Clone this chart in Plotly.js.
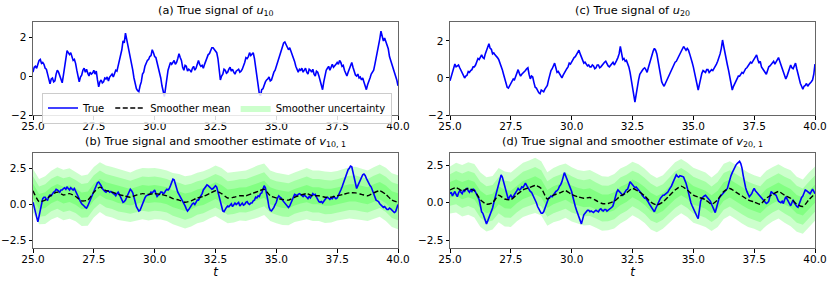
<!DOCTYPE html>
<html><head><meta charset="utf-8">
<script src="https://cdn.plot.ly/plotly-3.0.1.min.js"></script>
<style>html,body{margin:0;padding:0;background:#fff}#plot{width:831px;height:281px}</style>
</head><body><div id="plot"></div>
<script>
// time grid for the true signals (step 0.05) and for the smoother (step 0.25)
const tTrue = Array.from({length:301}, (_, i) => +(25 + i*0.05).toFixed(2));
const tSm = Array.from({length:61}, (_, i) => 25 + i*0.25);

const u10 = [
 0.2,0.45,0.5,0.4,0.6,0.8,0.85,0.65,0.7,0.6,0.4,0.35,0.1,-0.2,-0.4,-0.15,-0.1,-0.3,-0.25,0.1,
 0.3,0.2,0.0,-0.1,-0.35,0.05,0.4,0.95,1.3,1.2,1.1,1.2,1.0,0.8,0.85,0.65,0.3,0.05,-0.3,-0.05,
 0.05,0.3,0.4,0.2,0.35,0.15,0.0,0.2,0.1,0.15,0.3,0.1,0.25,-0.2,-0.55,-0.3,-0.2,-0.35,-0.3,-0.1,
 -0.15,-0.05,-0.25,-0.05,0.05,0.1,-0.05,0.2,0.3,0.25,0.5,0.85,1.1,1.35,1.8,1.7,2.2,1.9,1.5,1.3,
 1.0,0.7,0.3,-0.1,-0.4,-0.65,-0.75,-0.8,-0.5,-0.3,0.1,0.2,0.5,0.7,0.8,0.85,1.0,1.05,1.35,1.2,
 1.0,0.95,0.7,0.5,0.2,-0.1,-0.5,-0.8,-1.05,-0.6,-0.1,0.3,0.5,0.7,0.6,0.75,0.8,0.6,0.7,0.9,
 1.15,0.95,0.8,0.45,0.3,0.55,0.5,0.25,0.35,0.3,0.2,0.4,0.5,0.3,0.4,0.6,0.8,0.6,0.5,0.55,
 0.4,0.6,0.8,0.95,1.1,1.15,1.3,1.45,1.45,1.35,1.3,1.2,0.9,0.3,-0.2,0.0,0.1,0.35,0.3,0.15,
 0.2,0.35,0.45,0.25,0.35,0.2,0.1,0.25,0.3,0.35,0.2,0.25,0.35,0.5,0.7,0.95,0.9,1.0,1.2,1.05,
 1.15,1.2,0.9,0.4,-0.1,-0.55,-0.9,-1.0,-0.7,-0.65,-0.4,-0.3,-0.2,-0.15,-0.05,-0.25,-0.2,0.05,0.2,0.3,
 0.5,0.65,0.9,1.15,1.3,1.45,1.7,1.75,1.6,1.5,1.35,1.45,1.3,1.05,0.9,0.75,0.5,0.35,0.2,0.35,
 0.3,0.4,0.2,0.3,0.4,0.2,0.1,0.35,0.3,0.2,0.35,0.1,0.0,0.25,0.2,0.0,-0.2,-0.5,-0.7,-0.3,
 0.1,0.3,0.4,0.5,0.3,0.45,0.6,0.45,0.5,0.6,0.7,0.6,0.8,0.7,0.5,0.55,0.3,0.15,0.0,0.2,
 0.4,0.55,0.7,0.45,0.2,0.05,0.0,0.1,-0.1,-0.05,-0.2,-0.1,-0.3,-0.5,-0.7,-0.45,-0.2,-0.1,0.1,0.2,
 0.3,0.6,0.9,1.2,1.5,1.9,2.3,2.0,1.8,1.95,1.8,1.55,1.4,1.0,0.8,0.7,0.5,0.2,0.1,-0.2,
 -0.5];

const u20 = [
 -0.15,0.1,0.3,0.55,0.75,0.6,0.65,0.7,0.55,0.4,0.35,0.15,0.0,0.1,0.15,0.35,0.3,0.4,0.45,0.6,
 0.6,0.7,0.85,1.05,1.0,1.15,1.25,1.1,1.05,1.3,1.5,1.75,1.85,1.6,1.55,1.3,1.35,1.25,1.2,1.1,
 1.0,0.85,0.65,0.45,0.2,-0.05,-0.3,-0.5,-0.55,-0.4,-0.3,-0.15,-0.05,-0.1,0.1,0.3,0.45,0.25,0.1,0.2,
 0.25,0.35,0.4,0.5,0.55,0.2,-0.05,0.1,0.05,-0.25,-0.5,-0.55,-0.7,-0.8,-0.85,-0.65,-0.7,-0.75,-0.6,-0.5,
 -0.4,-0.1,0.2,0.4,0.5,0.65,0.8,0.55,0.3,0.35,0.2,0.1,0.0,0.15,0.3,0.35,0.5,0.6,0.8,0.75,
 0.9,1.0,1.1,1.15,1.25,1.4,1.5,1.3,1.1,0.9,0.8,0.85,0.75,0.65,0.7,0.6,0.6,0.7,0.65,0.5,
 0.55,0.7,0.7,0.55,0.6,0.7,0.75,0.85,0.9,0.75,0.65,0.6,0.7,0.8,0.85,0.7,0.8,0.95,1.1,1.3,
 1.7,1.35,1.0,1.05,0.9,0.95,0.8,0.6,0.3,-0.1,-0.5,-0.9,-1.3,-0.9,-0.4,-0.1,0.2,0.35,0.4,0.5,
 0.55,0.45,0.3,0.55,0.8,1.0,1.2,1.45,1.6,1.5,1.3,0.9,0.4,0.1,-0.2,-0.35,-0.45,-0.3,-0.15,0.0,
 0.2,0.35,0.45,0.55,0.7,0.85,0.9,1.05,1.2,1.3,1.4,1.55,1.7,1.6,1.5,1.6,1.5,1.3,1.0,0.85,
 0.6,0.25,-0.1,-0.4,-0.65,-0.35,0.0,0.25,0.4,0.35,0.3,0.45,0.45,0.3,0.35,0.45,0.4,0.5,0.6,0.75,
 0.9,1.05,1.3,1.6,2.05,1.7,1.3,1.0,0.7,0.4,0.1,-0.3,-0.65,-0.45,-0.3,-0.1,-0.05,0.1,0.1,0.2,
 0.3,0.25,0.4,0.5,0.55,0.65,0.7,0.85,0.8,0.9,1.0,1.1,1.25,1.0,0.8,0.9,0.6,0.5,0.4,0.3,
 0.2,0.4,0.6,0.65,0.75,0.8,0.9,0.75,0.85,1.0,1.1,0.9,0.7,0.5,0.3,0.1,-0.05,0.1,0.3,0.45,
 0.7,0.55,0.5,0.65,0.8,0.5,0.2,-0.05,-0.3,-0.45,-0.6,-0.45,-0.4,-0.3,-0.45,-0.35,-0.3,-0.2,-0.1,0.2,
 0.75];

const v10 = [
 0.15,-0.25,-0.6,-0.95,-1.2,-0.8,-0.3,0.1,0.4,0.5,0.5,0.35,0.3,0.55,0.65,0.6,0.75,0.85,0.9,1.05,
 1.0,0.9,0.85,1.0,1.0,1.1,1.15,1.05,1.2,1.1,1.0,1.15,1.05,1.0,1.1,0.9,0.7,0.6,0.4,0.2,
 0.05,0.0,-0.1,-0.2,-0.25,-0.1,0.1,0.3,0.5,0.75,1.0,1.2,1.35,1.5,1.55,1.45,1.3,1.1,0.95,0.9,
 0.85,0.95,0.95,0.85,0.9,0.8,0.75,0.7,0.6,0.75,0.85,0.7,0.5,0.3,0.15,0.2,0.3,0.5,0.7,0.9,
 1.05,0.95,0.8,0.5,0.1,-0.15,-0.3,-0.45,-0.4,-0.15,0.1,0.3,0.45,0.6,0.65,0.7,0.7,0.85,0.8,0.9,
 1.0,0.75,0.55,0.65,0.7,0.85,0.85,0.75,0.8,0.95,1.05,1.0,1.1,1.3,1.5,1.75,1.7,1.35,1.0,0.85,
 0.7,0.55,0.4,0.3,0.1,-0.1,-0.3,-0.45,-0.35,-0.2,-0.1,0.05,0.1,0.0,0.15,0.3,0.3,0.45,0.5,0.75,
 1.0,1.1,1.2,1.35,1.3,1.2,1.15,1.05,1.1,1.25,1.3,1.2,0.9,0.55,0.2,-0.15,-0.45,-0.5,-0.3,-0.2,
 -0.1,-0.15,-0.05,0.05,-0.15,-0.05,0.1,0.0,0.05,0.15,-0.1,0.05,0.1,-0.05,0.0,0.15,0.2,0.05,0.0,0.1,
 0.1,0.25,0.3,0.5,0.45,0.6,0.55,0.75,0.8,1.05,1.3,1.15,0.8,0.3,-0.2,-0.4,-0.45,-0.35,-0.2,0.0,
 0.15,0.45,0.6,0.5,0.45,0.3,0.2,0.1,-0.05,-0.15,-0.2,-0.1,0.1,0.35,0.55,0.7,0.65,0.6,0.7,0.75,
 0.7,0.6,0.55,0.65,0.6,0.5,0.4,0.55,0.45,0.6,0.75,0.65,0.7,0.5,0.3,0.2,0.15,0.2,0.1,0.25,
 0.4,0.45,0.5,0.4,0.35,0.45,0.4,0.55,0.5,0.4,0.45,0.6,0.8,1.0,1.2,1.45,1.7,2.0,2.3,2.4,
 2.5,2.65,2.6,2.2,1.7,1.35,1.1,1.3,1.5,1.75,1.9,2.05,2.1,2.0,1.8,1.6,1.4,1.3,1.2,1.0,
 0.8,0.5,0.3,0.25,0.2,0.05,-0.05,-0.1,-0.2,-0.15,-0.3,-0.35,-0.35,-0.25,-0.3,-0.4,-0.45,-0.55,-0.5,-0.3,
 0.0];

const v20 = [
 0.6,0.7,0.45,0.6,0.75,0.55,0.4,0.65,0.8,0.7,0.6,0.8,0.75,0.9,0.95,0.8,0.7,0.85,0.75,0.9,
 0.85,0.7,0.5,0.4,0.2,-0.2,-0.6,-0.7,-0.9,-1.2,-1.4,-1.2,-1.0,-0.75,-0.6,-0.35,0.0,0.3,0.6,0.9,
 1.2,1.6,1.85,1.7,1.4,1.1,0.8,0.45,0.2,0.4,0.5,0.35,0.4,0.55,0.65,0.8,0.95,0.85,0.9,1.05,
 1.0,1.2,1.3,1.15,1.0,0.85,0.75,0.7,0.55,0.4,0.2,0.0,-0.25,-0.45,-0.55,-0.7,-0.7,-0.6,-0.4,-0.15,
 0.1,0.3,0.35,0.45,0.4,0.55,0.6,0.75,0.8,0.9,1.1,1.2,1.4,1.75,2.0,1.8,1.6,1.4,1.2,1.0,
 0.75,0.4,0.0,-0.25,-0.5,-0.75,-1.0,-1.25,-1.4,-1.1,-0.8,-0.7,-0.6,-0.5,-0.5,-0.6,-0.55,-0.6,-0.65,-0.55,
 -0.5,-0.55,-0.6,-0.45,-0.4,-0.5,-0.55,-0.45,-0.45,-0.55,-0.5,-0.4,-0.4,-0.3,-0.2,0.1,0.5,0.7,0.85,0.75,
 0.7,0.6,0.5,0.6,0.75,0.85,0.9,1.1,1.4,1.3,1.2,1.15,1.0,1.05,0.95,0.85,0.8,0.65,0.5,0.4,
 0.3,0.3,0.2,0.05,-0.1,-0.25,-0.4,-0.55,-0.6,-0.4,-0.2,-0.05,0.1,0.3,0.4,0.5,0.5,0.55,0.6,0.7,
 0.85,0.95,1.1,1.3,1.5,1.7,1.85,1.75,1.7,1.8,1.8,1.75,1.7,1.55,1.3,1.0,0.6,0.3,0.0,-0.2,
 -0.4,-0.55,-0.7,-0.9,-1.05,-0.5,0.1,0.3,0.4,0.45,0.5,0.4,0.35,0.2,0.1,-0.1,-0.3,-0.5,-0.65,-0.35,
 0.0,0.25,0.4,0.5,0.6,0.7,0.75,0.85,0.95,1.25,1.6,1.8,2.0,2.2,2.4,2.5,2.6,2.7,2.75,2.6,
 2.3,1.8,1.3,1.0,0.75,0.55,0.4,0.5,0.6,0.8,0.95,0.8,0.7,0.6,0.55,0.45,0.3,0.25,0.15,0.05,
 -0.05,0.0,0.1,0.45,0.75,0.65,0.6,0.55,0.5,0.3,0.1,0.05,0.0,0.1,-0.05,0.2,0.4,0.25,0.1,-0.05,
 -0.2,0.0,0.2,0.0,-0.15,-0.25,-0.3,-0.05,0.2,0.35,0.45,0.65,0.85,0.8,0.75,0.65,0.6,0.75,0.9,0.75,
 0.6];

const meanV10 = [
 0.95,0.2,0.3,0.65, 0.85,0.65,0.75,0.55, 0.25,0.3,0.85,1.2, 0.95,0.85,0.7,0.6,
 0.5,0.65,0.75,0.7, 0.75,0.7,0.6,0.4, 0.3,0.15,0.25,0.45, 0.55,0.75,0.95,0.75,
 0.45,0.5,0.6,0.6, 0.75,0.9,1.05,0.6, 0.45,0.35,0.3,0.5, 0.65,0.75,0.6,0.6,
 0.5,0.5,0.6,0.7, 0.8,0.8,0.7,0.6, 0.8,0.95,0.7,0.3, 0.15];

const meanV20 = [
 0.85,1.0,0.8,0.95, 0.8,0.2,-0.1,0.0, 0.5,0.25,0.2,0.55, 0.85,1.0,1.15,0.95,
 0.25,0.5,0.65,0.8, 0.55,0.4,0.3,0.35, 0.15,-0.05,-0.05,0.1, 0.45,0.65,0.95,0.75,
 0.45,0.05,-0.15,0.05, 0.45,0.85,1.1,0.85, 0.5,0.35,0.2,-0.1, 0.2,0.75,0.95,0.7,
 0.45,0.2,0.05,-0.1, 0.3,0.55,0.75,0.5, 0.3,-0.1,-0.25,0.2, 0.6];

const stdV10 = [
 0.50,0.52,0.55,0.56,0.57,0.58,0.58,0.57,0.58,0.59,
 0.58,0.57,0.58,0.58,0.59,0.58,0.57,0.58,0.59,0.60,
 0.59,0.58,0.58,0.59,0.60,0.60,0.59,0.58,0.58,0.57,
 0.58,0.59,0.58,0.58,0.57,0.58,0.59,0.60,0.59,0.58,
 0.58,0.59,0.58,0.57,0.58,0.59,0.58,0.58,0.59,0.58,
 0.57,0.58,0.59,0.60,0.59,0.58,0.59,0.60,0.61,0.62,
 0.62];

const stdV20 = [
 0.52,0.55,0.57,0.58,0.59,0.60,0.60,0.59,0.60,0.61,
 0.60,0.59,0.60,0.60,0.61,0.60,0.59,0.60,0.61,0.60,
 0.60,0.59,0.60,0.61,0.60,0.60,0.59,0.60,0.61,0.60,
 0.59,0.60,0.60,0.61,0.60,0.59,0.60,0.61,0.60,0.60,
 0.61,0.60,0.60,0.59,0.60,0.61,0.60,0.60,0.61,0.60,
 0.59,0.60,0.61,0.60,0.60,0.61,0.62,0.61,0.60,0.60,
 0.60];

const bandLevels = [3, 2, 1];
const xTicks = [25.0, 27.5, 30.0, 32.5, 35.0, 37.5, 40.0];

const BLUE = '#0000ff';
const FILL = 'rgba(0,255,0,0.2)';
const traces = [];

function bands(mean, std, xa, ya, showFirst) {
  bandLevels.forEach((k, idx) => {
    const up = mean.map((m, i) => m + k*std[i]);
    const lo = mean.map((m, i) => m - k*std[i]);
    traces.push({
      x: tSm.concat(tSm.slice().reverse()),
      y: up.concat(lo.slice().reverse()),
      xaxis: xa, yaxis: ya, type: 'scatter', mode: 'lines',
      fill: 'toself', fillcolor: FILL, line: {width: 0, color: FILL},
      hoverinfo: 'skip', name: 'Smoother uncertainty',
      showlegend: showFirst && idx === 0, legendrank: 3
    });
  });
}
function trueLine(y, xa, ya, show) {
  traces.push({x: tTrue, y: y, xaxis: xa, yaxis: ya, type: 'scatter', mode: 'lines',
    line: {color: BLUE, width: 1.6}, name: 'True', showlegend: show, legendrank: 1});
}
function meanLine(y, xa, ya, show) {
  traces.push({x: tSm, y: y, xaxis: xa, yaxis: ya, type: 'scatter', mode: 'lines',
    line: {color: '#000', width: 1.4, dash: '5px,2.5px', shape: 'spline', smoothing: 0.6},
    name: 'Smoother mean', showlegend: show, legendrank: 2});
}

trueLine(u10, 'x', 'y', true);
trueLine(u20, 'x2', 'y2', false);
bands(meanV10, stdV10, 'x3', 'y3', true);
trueLine(v10, 'x3', 'y3', false);
meanLine(meanV10, 'x3', 'y3', true);
bands(meanV20, stdV20, 'x4', 'y4', false);
trueLine(v20, 'x4', 'y4', false);
meanLine(meanV20, 'x4', 'y4', false);

const W = 831, H = 281;
const colL = [33/W, 398/W], colR = [450/W, 815/W];
const rowT = [(H-115)/H, (H-21.5)/H], rowB = [(H-248)/H, (H-153)/H];
const FONT = 'DejaVu Sans, sans-serif';

function xax(dom, anchor, title) {
  const a = {domain: dom, anchor: anchor, range: [25, 40], tickvals: xTicks,
    ticktext: xTicks.map(v => v.toFixed(1)), showgrid: false, zeroline: false,
    showline: true, mirror: true, linecolor: '#666', linewidth: 1,
    ticks: 'outside', ticklen: 3.5, tickcolor: '#000', ticklabelstandoff: -2,
    tickfont: {size: 10.5, color: '#000'}};
  if (title) a.title = {text: '<i>t</i>', font: {size: 12, color: '#000'}, standoff: 0};
  return a;
}
function yax(dom, anchor, range, vals, fmt) {
  return {domain: dom, anchor: anchor, range: range, tickvals: vals,
    ticktext: vals.map(v => (v < 0 ? '\u2212' : '') + Math.abs(v).toFixed(fmt)),
    showgrid: false, zeroline: false, showline: true, mirror: true, linecolor: '#666',
    linewidth: 1, ticks: 'outside', ticklen: 3.5, tickcolor: '#000',
    tickfont: {size: 10.5, color: '#000'}};
}

const titles = [
  {text: '(a) True signal of <i>u</i><sub>10</sub>', x: (colL[0]+colL[1])/2, y: (H-11)/H},
  {text: '(c) True signal of <i>u</i><sub>20</sub>', x: (colR[0]+colR[1])/2, y: (H-11)/H},
  {text: '(b) True signal and smoother estimate of <i>v</i><sub>10, 1</sub>', x: (colL[0]+colL[1])/2, y: (H-142)/H},
  {text: '(d) True signal and smoother estimate of <i>v</i><sub>20, 1</sub>', x: (colR[0]+colR[1])/2, y: (H-142)/H}
].map(a => ({text: a.text, x: a.x, y: a.y, xref: 'paper', yref: 'paper', showarrow: false,
  xanchor: 'center', yanchor: 'middle', font: {size: 11.3, color: '#000', family: FONT}}));

const layout = {
  width: W, height: H, margin: {l: 0, r: 0, t: 0, b: 0},
  paper_bgcolor: '#fff', plot_bgcolor: '#fff',
  font: {family: FONT, size: 11, color: '#000'},
  xaxis: xax(colL, 'y', false), yaxis: yax(rowT, 'x', [-2, 2.8], [-2, 0, 2], 0),
  xaxis2: xax(colR, 'y2', false), yaxis2: yax(rowT, 'x2', [-2, 3.05], [-2, 0, 2], 0),
  xaxis3: xax(colL, 'y3', true), yaxis3: yax(rowB, 'x3', [-3, 3.55], [-2.5, 0, 2.5], 1),
  xaxis4: xax(colR, 'y4', true), yaxis4: yax(rowB, 'x4', [-3, 3.3], [-2.5, 0, 2.5], 1),
  annotations: titles,
  legend: {orientation: 'h', x: 42/W, y: (H-92.5)/H, xanchor: 'left', yanchor: 'top',
    bgcolor: 'rgba(255,255,255,0.85)', bordercolor: '#ccc', borderwidth: 1,
    font: {size: 10, color: '#000'}, traceorder: 'normal', itemwidth: 30},
  showlegend: true
};

Plotly.newPlot('plot', traces, layout, {displayModeBar: false, staticPlot: true});
</script></body></html>
